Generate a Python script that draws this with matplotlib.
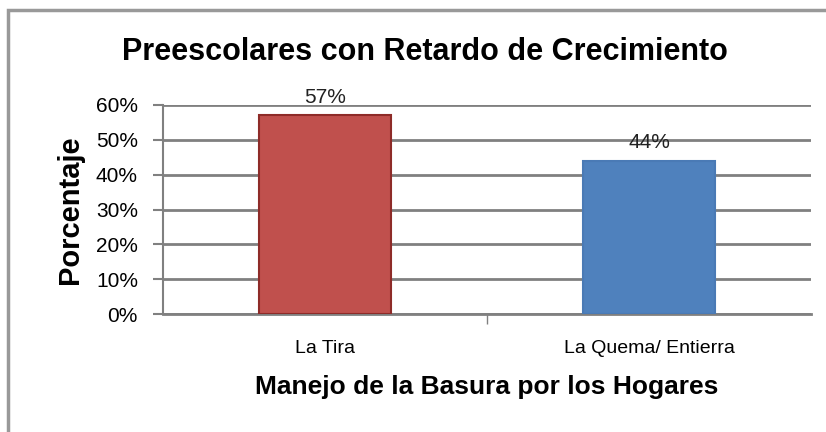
import matplotlib
matplotlib.use("Agg")
import matplotlib.pyplot as plt
from matplotlib.patches import Rectangle
from matplotlib.ticker import PercentFormatter

categorias = ["La Tira", "La Quema/ Entierra"]
valores = [0.57, 0.44]
etiquetas = ["57%", "44%"]
colores = ["#C0504D", "#4F81BD"]
bordes = ["#8E2B28", "#4A7AB5"]

plt.rcParams['font.family'] = ['Liberation Sans', 'DejaVu Sans']

fig = plt.figure(figsize=(8.26, 4.32), dpi=100)
fig.patch.set_facecolor("white")

# marco exterior gris
fig.patches.append(Rectangle((8 / 826, -0.1), 1.1, 1 - 10 / 432 + 0.1,
                             transform=fig.transFigure, fill=False,
                             edgecolor="#999999", linewidth=2.5, zorder=0))

ax = fig.add_axes([163 / 826, 1 - 314 / 432, (811 - 163) / 826, (314 - 105) / 432])

x = range(len(categorias))
ax.bar(x, valores, width=0.41, color=colores, edgecolor=bordes, linewidth=1.5, zorder=3)

for xi, v, t in zip(x, valores, etiquetas):
    ax.annotate(t, (xi, v), xytext=(0, 6), textcoords="offset points",
                ha="center", va="bottom", fontsize=15, color="#222222")

ax.set_xlim(-0.5, 1.5)
ax.set_ylim(0, 0.6)
ax.set_yticks([0, 0.1, 0.2, 0.3, 0.4, 0.5, 0.6])
ax.yaxis.set_major_formatter(PercentFormatter(1.0, decimals=0))
ax.grid(axis="y", color="#808080", linewidth=2, zorder=0)

ax.set_xticks([0.5], minor=False)
ax.set_xticklabels([""])
ax.set_xticks(list(x), minor=True)
ax.set_xticklabels(categorias, minor=True, fontsize=14)
ax.tick_params(axis="x", which="minor", length=0, pad=19)
ax.tick_params(axis="x", which="major", length=7, width=1, color="#808080")
ax.tick_params(axis="y", labelsize=15, length=7, width=1.5, color="#808080", pad=11)

for s in ["top", "right"]:
    ax.spines[s].set_visible(False)
ax.spines["left"].set_color("#808080")
ax.spines["left"].set_linewidth(1.5)
ax.spines["bottom"].set_color("#808080")
ax.spines["bottom"].set_linewidth(2)

ax.set_ylabel("Porcentaje", fontsize=21, fontweight="bold", labelpad=9)
ax.set_xlabel("Manejo de la Basura por los Hogares", fontsize=19, fontweight="bold", labelpad=13)

fig.text(425 / 826, 1 - 52 / 432, "Preescolares con Retardo de Crecimiento",
         ha="center", va="center", fontsize=22, fontweight="bold")

fig.savefig("out.png", dpi=100)
